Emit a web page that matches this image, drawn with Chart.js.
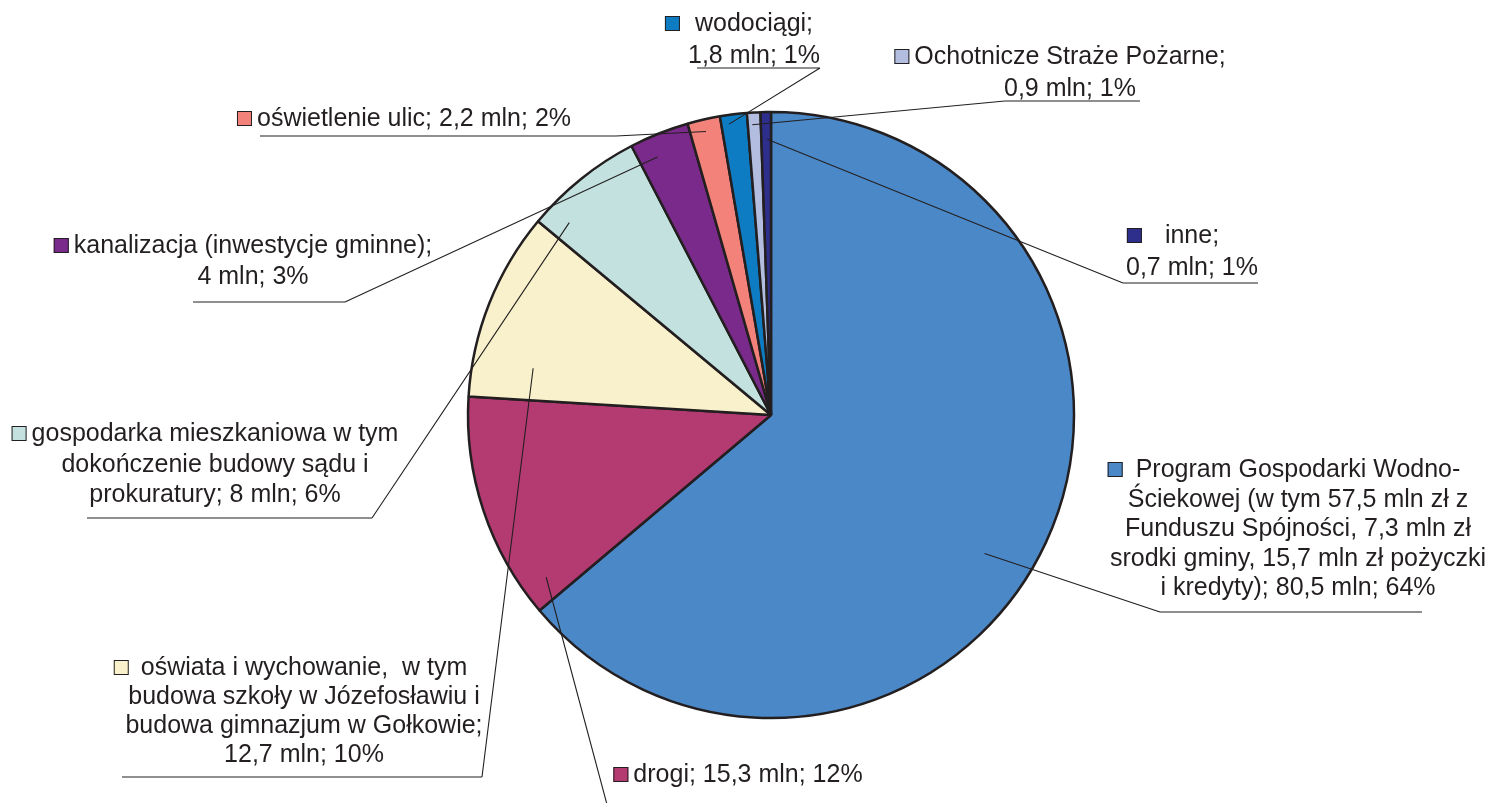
<!DOCTYPE html>
<html>
<head>
<meta charset="utf-8">
<script src="https://cdn.jsdelivr.net/npm/chart.js@4.4.1/dist/chart.umd.min.js"></script>
<style>
  html, body { margin: 0; padding: 0; background: #fff; }
</style>
</head>
<body>
<canvas id="myChart" width="1488" height="803"></canvas>
<script>
// Slices in drawing order, clockwise from 12 o'clock
var categories = [
  "Program Gospodarki Wodno-Ściekowej",
  "drogi",
  "oświata i wychowanie",
  "gospodarka mieszkaniowa",
  "kanalizacja (inwestycje gminne)",
  "oświetlenie ulic",
  "wodociągi",
  "Ochotnicze Straże Pożarne",
  "inne"
];

// mln zł
var values = [80.5, 15.3, 12.7, 8, 4, 2.2, 1.8, 0.9, 0.7];

// Label text as printed next to each slice
var labelLines = [
  ["Program Gospodarki Wodno-", "Ściekowej (w tym 57,5 mln zł z", "Funduszu Spójności, 7,3 mln zł", "srodki gminy, 15,7 mln zł pożyczki", "i kredyty); 80,5 mln; 64%"],
  ["drogi; 15,3 mln; 12%"],
  ["oświata i wychowanie,  w tym", "budowa szkoły w Józefosławiu i", "budowa gimnazjum w Gołkowie;", "12,7 mln; 10%"],
  ["gospodarka mieszkaniowa w tym", "dokończenie budowy sądu i", "prokuratury; 8 mln; 6%"],
  ["kanalizacja (inwestycje gminne);", "4 mln; 3%"],
  ["oświetlenie ulic; 2,2 mln; 2%"],
  ["wodociągi;", "1,8 mln; 1%"],
  ["Ochotnicze Straże Pożarne;", "0,9 mln; 1%"],
  ["inne;", "0,7 mln; 1%"]
];

var colors = ["#4b88c8", "#b43a72", "#f9f1cc", "#c3e2df", "#7a2a8a", "#f2827a", "#0e7cc2", "#b3bddf", "#2e2f8c"];

// Where each label sits: cx = text centre, y = first baseline, ul = underline [x1, x2, y],
// end = which underline end the leader starts from, t/f = anchor inside slice (angle fraction, radius fraction)
var labelLayout = [
  { cx: 1298, y: 477, lh: 29.5, gap: 13, ul: [1160, 1422, 612], end: 0, t: 0.535, f: 0.84 },
  { cx: 748,  y: 782, lh: 30,   gap: 5,  ul: [609, 866, 812],   end: 0, t: 0.10,  f: 0.915 },
  { cx: 304,  y: 675, lh: 29,   gap: 12, ul: [122, 482, 777],   end: 1, t: 0.21,  f: 0.80 },
  { cx: 215,  y: 441, lh: 30.5, gap: 5,  ul: [87, 372, 518],    end: 1, t: 0.17,  f: 0.92 },
  { cx: 253,  y: 253, lh: 31,   gap: 5,  ul: [193, 345, 302],   end: 1, t: 0.32,  f: 0.93 },
  { cx: 414,  y: 126, lh: 30,   gap: 5,  ul: [260, 616, 136],   end: 1, t: 0.49,  f: 0.96 },
  { cx: 754,  y: 31,  lh: 32,   gap: 15, ul: [697, 820, 68],    end: 1, t: 0.29,  f: 0.97 },
  { cx: 1070, y: 64,  lh: 32,   gap: 5,  ul: [1005, 1140, 101], end: 0, t: 0.34,  f: 0.96 },
  { cx: 1192, y: 243, lh: 32,   gap: 23, ul: [1123, 1258, 283], end: 0, t: 0.60,  f: 0.91 }
];

var ink = "#231f20";

var sliceLabels = {
  id: "sliceLabels",
  afterDatasetsDraw: function (chart) {
    var ctx = chart.ctx;
    var arcs = chart.getDatasetMeta(0).data;
    ctx.save();
    ctx.font = "25px 'Liberation Sans', Arial, sans-serif";
    ctx.textBaseline = "alphabetic";
    ctx.textAlign = "center";
    arcs.forEach(function (arc, i) {
      var L = labelLayout[i];
      var lines = labelLines[i];
      // text
      ctx.fillStyle = ink;
      lines.forEach(function (s, k) {
        ctx.fillText(s, L.cx, L.y + k * L.lh);
      });
      // colour marker before the first line
      var w0 = ctx.measureText(lines[0]).width;
      var mx = L.cx - w0 / 2 - L.gap - 15;
      ctx.fillStyle = colors[i];
      ctx.fillRect(mx, L.y - 15, 15, 15);
      ctx.lineWidth = 1;
      ctx.strokeStyle = ink;
      ctx.strokeRect(mx + 0.5, L.y - 14.5, 14, 14);
      // anchor point inside the slice
      var p = arc.getProps(["x", "y", "startAngle", "endAngle", "outerRadius"], true);
      var a = p.startAngle + L.t * (p.endAngle - p.startAngle);
      var ax = p.x + Math.cos(a) * p.outerRadius * L.f;
      var ay = p.y + Math.sin(a) * p.outerRadius * L.f;
      var sx = L.ul[L.end];
      ctx.beginPath();
      ctx.moveTo(L.ul[0], L.ul[2]);
      ctx.lineTo(L.ul[1], L.ul[2]);
      ctx.moveTo(sx, L.ul[2]);
      ctx.lineTo(ax, ay);
      ctx.lineWidth = 1.1;
      ctx.strokeStyle = ink;
      ctx.stroke();
    });
    ctx.restore();
  }
};

var ctx = document.getElementById("myChart").getContext("2d");

var myChart = new Chart(ctx, {
  type: "pie",
  data: {
    labels: categories,
    datasets: [
      {
        data: values,
        backgroundColor: colors,
        borderColor: ink,
        borderWidth: 2.5,
        radius: 303
      }
    ]
  },
  options: {
    responsive: false,
    animation: false,
    layout: { padding: { left: 100, right: 46, top: 60, bottom: 33 } },
    plugins: {
      legend: { display: false },
      tooltip: { enabled: false }
    }
  },
  plugins: [sliceLabels]
});
</script>
</body>
</html>
